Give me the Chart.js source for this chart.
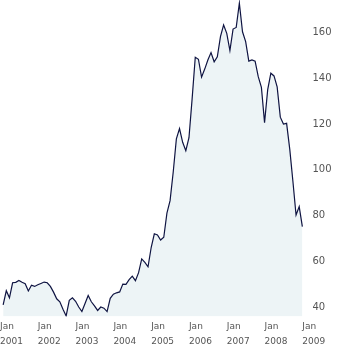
<!DOCTYPE html>
<html>
<head>
<meta charset="utf-8">
<script src="https://cdn.jsdelivr.net/npm/chart.js@4"></script>
<style>
  html, body { margin: 0; padding: 0; background: #fff; }
  #wrap { width: 350px; height: 350px; }
</style>
</head>
<body>
<div id="wrap"><canvas id="priceChart"></canvas></div>
<script>
// axis starts Jan 2001, runs one month past Jan 2009
const startYear = 2001;
const monthCount = 98;
const yearTicks = ['2001', '2002', '2003', '2004', '2005', '2006', '2007', '2008', '2009'];
const yTicks = [40, 60, 80, 100, 120, 140, 160];

// monthly closes, Feb 2001 .. Jan 2009
const values2001 = [40.9, 47.1, 44, 50.6, 50.8, 51.6, 50.8, 50.2, 47, 49.5, 49];
const values2002 = [49.7, 50.3, 50.9, 50.6, 49, 46.5, 43.6, 42.3, 39, 36.1, 42.9, 44];
const values2003 = [42.5, 40, 38, 41.5, 45, 42.3, 40.5, 38.5, 40, 39.5, 38, 43.8];
const values2004 = [45.6, 46.2, 46.6, 50, 49.9, 52, 53.5, 51.5, 55, 61, 59.5, 57.6];
const values2005 = [66, 72, 71.5, 69.3, 70.5, 81, 86.5, 99, 113.5, 118, 112, 108.3];
const values2006 = [114, 131, 149.2, 148.3, 140.5, 144, 148, 151.2, 147.2, 149.4, 158.2, 163.3];
const values2007 = [159.6, 152.1, 161.5, 162.2, 172.8, 160.3, 156, 147.5, 148, 147.5, 140.7, 136];
const values2008 = [120.6, 135, 142.2, 141, 136.2, 123, 120, 120.3, 109, 95, 80.2, 83.9];
const values2009 = [75.1];

// Jan 2001 has no value, the line starts in Feb
const values = [null].concat(values2001, values2002, values2003, values2004,
    values2005, values2006, values2007, values2008, values2009);

const months = [];
for (let i = 0; i < monthCount; i++) {
    months.push((startYear + Math.floor(i / 12)) + '-' + String(i % 12 + 1).padStart(2, '0'));
}

const ctx = document.getElementById('priceChart');
new Chart(ctx.getContext('2d'), {
    type: 'line',
    data: {
        labels: months,
        datasets: [{
            data: values,
            borderColor: '#0f1442',
            borderWidth: 1.2,
            backgroundColor: '#edf4f6',
            fill: 'start',
            pointRadius: 0,
            tension: 0
        }]
    },
    options: {
        responsive: true,
        maintainAspectRatio: false,
        animation: false,
        layout: { padding: 0 },
        plugins: { legend: { display: false }, tooltip: { enabled: false } },
        scales: {
            x: {
                grid: { display: false, drawTicks: false },
                border: { display: false },
                ticks: {
                    autoSkip: false,
                    maxRotation: 0,
                    align: 'start',
                    padding: 2,
                    color: '#555',
                    font: { family: 'DejaVu Sans', size: 9, lineHeight: 1.75 },
                    callback: (v, i) => i % 12 === 0 ? ['Jan', yearTicks[i / 12]] : ''
                },
                afterFit: (s) => { s.height = 33.5; s.paddingLeft = 0; s.paddingRight = 0; }
            },
            y: {
                position: 'right',
                min: 35.85,
                max: 174.2,
                grid: { display: false, drawTicks: false },
                border: { display: false },
                ticks: {
                    padding: 7,
                    color: '#555',
                    font: { family: 'DejaVu Sans', size: 10 }
                },
                afterBuildTicks: (s) => { s.ticks = yTicks.map((v) => ({ value: v })); },
                afterFit: (s) => { s.width = 44.5; s.paddingTop = 0; s.paddingBottom = 0; }
            }
        }
    }
});
</script>
</body>
</html>
